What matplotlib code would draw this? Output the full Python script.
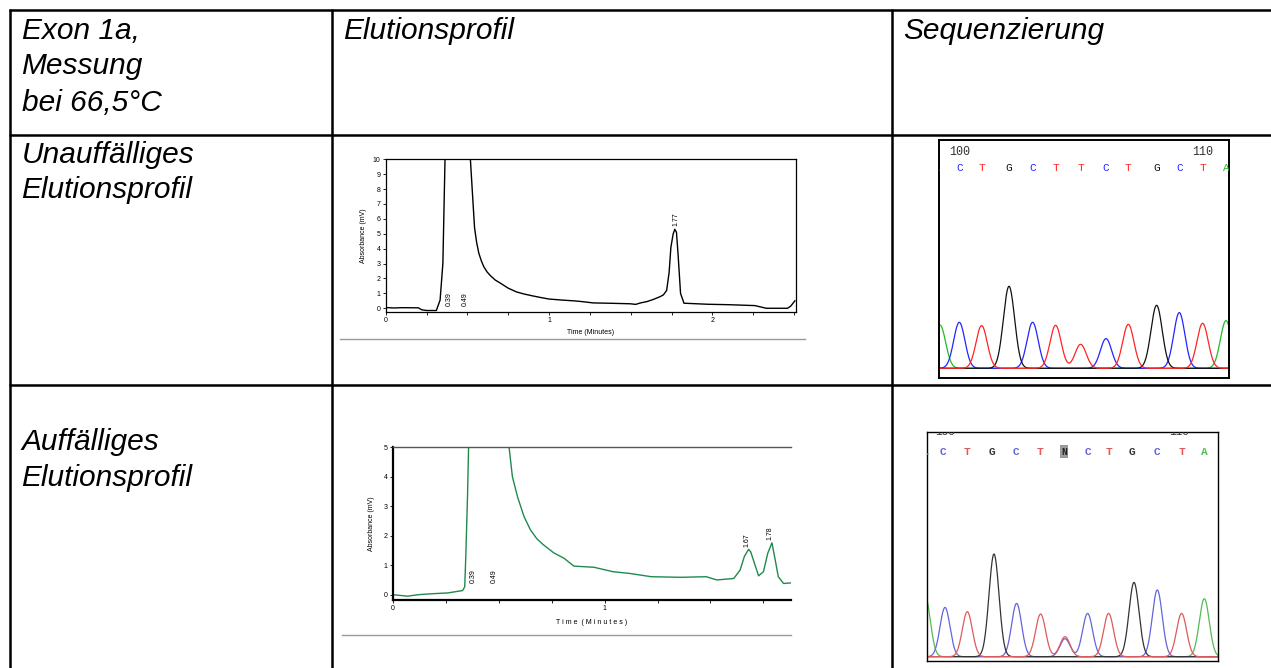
import numpy as np
import matplotlib.pyplot as plt
from matplotlib.ticker import MultipleLocator
from matplotlib.transforms import blended_transform_factory

W, H = 1271, 668

# table text
header = ["Exon 1a,", "Messung", "bei 66,5°C"]
col_titles = ["Elutionsprofil", "Sequenzierung"]
row_normal = ["Unauffälliges", "Elutionsprofil"]
row_mutant = ["Auffälliges", "Elutionsprofil"]

# elution profile, unremarkable (time in min, absorbance in mV)
t_normal = [0.0, 0.05, 0.1, 0.2, 0.22, 0.25, 0.31, 0.333, 0.35, 0.365, 0.44, 0.513,
            0.53, 0.544, 0.557, 0.57, 0.585, 0.6, 0.62, 0.64, 0.67, 0.7, 0.75, 0.8,
            0.85, 0.9, 0.95, 1.0, 1.08, 1.15, 1.2, 1.27, 1.4, 1.5, 1.53, 1.56, 1.6,
            1.64, 1.68, 1.70, 1.72, 1.735, 1.746, 1.76, 1.77, 1.78, 1.79, 1.805,
            1.826, 1.97, 2.1, 2.26, 2.33, 2.46, 2.48, 2.505]
a_normal = [0.05, 0.02, 0.04, 0.03, -0.1, -0.15, -0.15, 0.55, 3.0, 11.0, 12.0, 11.0,
            7.9, 5.4, 4.4, 3.7, 3.2, 2.8, 2.45, 2.2, 1.9, 1.7, 1.35, 1.1,
            0.95, 0.83, 0.72, 0.62, 0.55, 0.5, 0.45, 0.36, 0.33, 0.3, 0.26, 0.36, 0.45,
            0.6, 0.78, 0.9, 1.2, 2.4, 4.1, 5.0, 5.3, 5.1, 3.6, 1.0,
            0.34, 0.27, 0.24, 0.18, 0.0, 0.0, 0.15, 0.5]
peaks_normal = [(0.389, "0.39"), (0.487, "0.49"), (1.775, "1.77")]

# elution profile, remarkable
t_mutant = [0.0, 0.07, 0.12, 0.18, 0.26, 0.33, 0.34, 0.345, 0.353, 0.36, 0.45, 0.54,
            0.565, 0.59, 0.62, 0.65, 0.68, 0.71, 0.76, 0.81, 0.855, 0.95, 1.04, 1.12,
            1.22, 1.36, 1.48, 1.53, 1.61, 1.64, 1.66, 1.68, 1.69, 1.70, 1.727, 1.75,
            1.77, 1.79, 1.805, 1.82, 1.845, 1.88]
a_mutant = [0.0, -0.05, 0.0, 0.03, 0.06, 0.14, 0.27, 1.3, 3.3, 5.6, 6.0, 5.6,
            4.0, 3.3, 2.65, 2.2, 1.9, 1.7, 1.42, 1.23, 0.97, 0.93, 0.78, 0.72,
            0.61, 0.59, 0.61, 0.5, 0.55, 0.84, 1.3, 1.54, 1.45, 1.23, 0.64, 0.78,
            1.4, 1.76, 1.2, 0.61, 0.38, 0.4]
peaks_mutant = [(0.381, "0.39", 0.4), (0.479, "0.49", 0.4), (1.672, "1.67", 1.63), (1.78, "1.78", 1.85)]

# sequencing traces (scan position, base, signal)
seq1_pos = [0.7, 20, 42.3, 69.7, 93.3, 116.3, 141.3, 166.7, 189, 217.3, 240, 263.3, 286.7]
seq1_base = ["A", "C", "T", "G", "C", "T", "T", "C", "T", "G", "C", "T", "A"]
seq1_signal = [433, 460, 427, 820, 460, 430, 240, 297, 440, 630, 557, 450, 477]

seq2_pos = [-2, 17.7, 40, 66.7, 89.3, 113.3, 137.7, 137.7, 160.3, 181.3, 206.7, 230, 254.3, 277]
seq2_base = ["A", "C", "T", "G", "C", "T", "T", "C", "C", "T", "G", "C", "T", "A"]
seq2_signal = [600, 493, 450, 1027, 533, 427, 200, 180, 433, 433, 743, 667, 433, 580]
seq2_calls = ["C", "T", "G", "C", "T", "N", "C", "T", "G", "C", "T", "A"]
seq2_call_pos = [16, 40, 64.3, 88.7, 112.7, 136.7, 160.3, 181.3, 205, 229.3, 254.3, 276.7]

colors1 = {"A": "#22bb22", "C": "#2424ff", "G": "#111111", "T": "#ff2424"}
colors2 = {"A": "#55bb55", "C": "#6464dd", "G": "#333333", "T": "#e05a5a"}


def px_box(x0, y0, x1, y1):
    return [x0 / W, 1 - y1 / H, (x1 - x0) / W, (y1 - y0) / H]


fig = plt.figure(figsize=(W / 100, H / 100), dpi=100)
plt.rcParams['font.family'] = ['Liberation Sans', 'DejaVu Sans']

# table grid and text
bg = fig.add_axes([0, 0, 1, 1])
bg.set_xlim(0, W)
bg.set_ylim(H, 0)
bg.axis('off')
lw_tab = 1.8
for yy in [9.5, 134.5, 385]:
    bg.plot([8.6, W], [yy, yy], color='k', lw=lw_tab, solid_capstyle='butt')
for xx in [9.5, 332, 892]:
    bg.plot([xx, xx], [8.6, H], color='k', lw=lw_tab, solid_capstyle='butt')

fs = 21.5
txt = dict(fontsize=fs, style='italic', va='baseline', ha='left')
for line, yb in zip(header, [39.3, 74.3, 111]):
    bg.text(21.5, yb, line, **txt)
bg.text(343, 39.3, col_titles[0], **txt)
bg.text(903, 39.3, col_titles[1], **txt)
for line, yb in zip(row_normal, [163.3, 198.3]):
    bg.text(21.5, yb, line, **txt)
for line, yb in zip(row_mutant, [450, 485.5]):
    bg.text(21.5, yb, line, **txt)

# grey rules under the chromatograms
bg.plot([340, 805], [339, 339], color='#9a9a9a', lw=1)
bg.plot([341.7, 791], [635, 635], color='#9a9a9a', lw=1)

small = 5


def style_chrom(ax):
    ax.tick_params(axis='both', which='both', direction='out', labelsize=small,
                   length=2.2, width=0.6, pad=1.5)
    ax.tick_params(axis='x', which='minor', length=2.2)
    ax.xaxis.set_major_locator(MultipleLocator(1))
    ax.xaxis.set_minor_locator(MultipleLocator(0.25))
    ax.yaxis.set_major_locator(MultipleLocator(1))


# chromatogram 1
ax1 = fig.add_axes(px_box(385.7, 159.3, 795.7, 311.7))
ax1.plot(t_normal, a_normal, color='k', lw=1.0)
ax1.set_xlim(0, 2.51)
ax1.set_ylim(-0.23, 10)
style_chrom(ax1)
for sp in ax1.spines.values():
    sp.set_linewidth(0.9)
ax1.set_xlabel("Time (Minutes)", fontsize=small)
ax1.set_ylabel("Absorbance (mV)", fontsize=small)
ax1.xaxis.set_label_coords(0.5, -0.138)
ax1.xaxis.label.set_va('center')
ax1.yaxis.set_label_coords(-0.055, 0.5)
ax1.yaxis.label.set_va('center')
for x, lab in peaks_normal[:2]:
    ax1.text(x, 0.15, lab, rotation=90, fontsize=small, ha='center', va='bottom')
x, lab = peaks_normal[2]
ax1.text(x, 5.5, lab, rotation=90, fontsize=small, ha='center', va='bottom')

# chromatogram 2
ax2 = fig.add_axes(px_box(392.7, 447.3, 791, 600))
ax2.plot(t_mutant, a_mutant, color='#1f8a4c', lw=1.0)
ax2.set_xlim(0, 1.88)
ax2.set_ylim(-0.18, 5)
style_chrom(ax2)
ax2.spines['right'].set_visible(False)
ax2.spines['top'].set_color('#555555')
ax2.spines['top'].set_linewidth(1.0)
ax2.spines['left'].set_linewidth(1.6)
ax2.spines['bottom'].set_linewidth(1.6)
ax2.set_xlabel("T i m e  ( M i n u t e s )", fontsize=small)
ax2.set_ylabel("Absorbance (mV)", fontsize=small)
ax2.xaxis.set_label_coords(0.5, -0.149)
ax2.xaxis.label.set_va('center')
ax2.yaxis.set_label_coords(-0.053, 0.5)
ax2.yaxis.label.set_va('center')
for x, lab, yb in peaks_mutant:
    ax2.text(x, yb, lab, rotation=90, fontsize=small, ha='center', va='bottom')


def draw_trace(ax, pos, bases, signal, colors, sigma, lw):
    xs = np.linspace(-15, 305, 900)
    for b in ["A", "C", "G", "T"]:
        ys = np.zeros_like(xs)
        for p, bb, s in zip(pos, bases, signal):
            if bb == b:
                ys += s * np.exp(-0.5 * ((xs - p) / sigma) ** 2)
        ax.plot(xs, ys, color=colors[b], lw=lw)


# sequencing trace 1
sq1 = fig.add_axes(px_box(939.3, 140, 1229.3, 377.7))
draw_trace(sq1, seq1_pos, seq1_base, seq1_signal, colors1, 5.6, 0.9)
sq1.set_xlim(0, 290)
sq1.set_ylim(-94, 2283)
sq1.set_xticks([])
sq1.set_yticks([])
for sp in sq1.spines.values():
    sp.set_linewidth(1.4)
tr1 = blended_transform_factory(sq1.transData, sq1.transAxes)
for i, (p, b) in enumerate(zip(seq1_pos, seq1_base)):
    xp = p - 4 if i == 0 else p
    sq1.text(xp, 0.881, b, transform=tr1, color=colors1[b], fontsize=8,
             family='Liberation Mono', ha='center', va='center', clip_on=True)
sq1.text(seq1_pos[1], 0.951, "100", transform=tr1, color='#333333', fontsize=8.5,
         family='Liberation Mono', ha='center', va='center')
sq1.text(seq1_pos[-2], 0.951, "110", transform=tr1, color='#333333', fontsize=8.5,
         family='Liberation Mono', ha='center', va='center')

# sequencing trace 2
sq2 = fig.add_axes(px_box(927.3, 431.7, 1218.3, 660.7))
draw_trace(sq2, seq2_pos, seq2_base, seq2_signal, colors2, 5.0, 0.9)
sq2.set_xlim(0, 291)
sq2.set_ylim(-40, 2250)
sq2.set_xticks([])
sq2.set_yticks([])
for sp in sq2.spines.values():
    sp.set_linewidth(1.0)
tr2 = blended_transform_factory(sq2.transData, sq2.transAxes)
for p, b in zip(seq2_call_pos, seq2_calls):
    if b == "N":
        sq2.text(p, 0.913, b, transform=tr2, color='#222222', fontsize=7,
                 family='Liberation Mono', weight='bold', ha='center', va='center',
                 bbox=dict(boxstyle='square,pad=0.15', fc='#9a9a9a', ec='none'))
    else:
        sq2.text(p, 0.913, b, transform=tr2, color=colors2[b], fontsize=8,
                 family='Liberation Mono', weight='bold', ha='center', va='center')
sq2.text(0.5, 0.913, ".", transform=tr2, color=colors2["A"], fontsize=7,
         family='Liberation Mono', ha='center', va='center')
sq2.text(seq2_call_pos[0] + 2, 1.0, "100", transform=tr2, color='#333333', fontsize=8,
         family='Liberation Mono', ha='center', va='center', clip_on=True)
sq2.text(seq2_call_pos[-2] - 2, 1.0, "110", transform=tr2, color='#333333', fontsize=8,
         family='Liberation Mono', ha='center', va='center', clip_on=True)

fig.savefig("out.png", dpi=100)
